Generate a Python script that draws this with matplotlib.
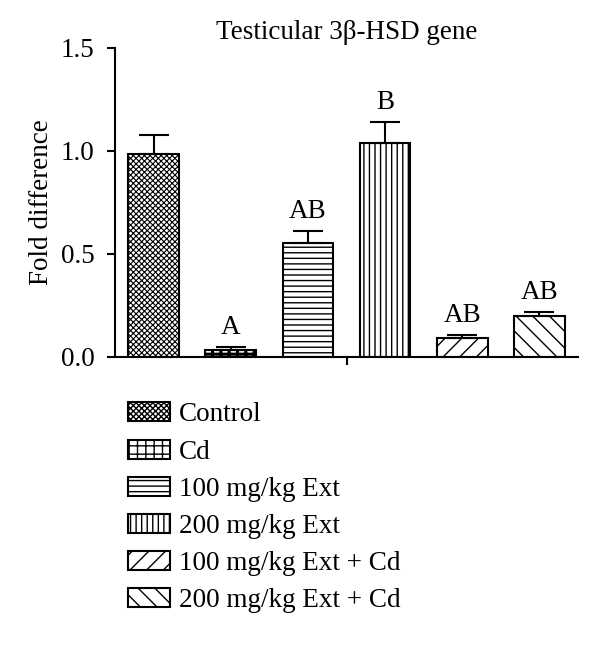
import matplotlib
matplotlib.use("Agg")
import matplotlib.pyplot as plt
from matplotlib.patches import Patch
import numpy as np

groups = ["Control", "Cd", "100 mg/kg Ext", "200 mg/kg Ext",
          "100 mg/kg Ext + Cd", "200 mg/kg Ext + Cd"]
means = [0.984, 0.032, 0.554, 1.036, 0.092, 0.195]
sems = [0.092, 0.015, 0.058, 0.106, 0.011, 0.022]
letters = ["", "A", "AB", "B", "AB", "AB"]
hatches = ["xxxxxx", "++", "---", "|||", "//", "\\\\"]
hatch_lw = [0.8, 2.2, 1.0, 1.0, 1.0, 1.0]

plt.rcParams["font.family"] = ["Liberation Serif", "DejaVu Serif"]
FS = 19.5

fig = plt.figure(figsize=(6.0, 6.46), dpi=100)
ax = fig.add_axes([0.192, 0.448, 0.771, 0.478])

x = np.arange(len(groups))
for i in range(len(groups)):
    with plt.rc_context({"hatch.linewidth": hatch_lw[i]}):
        b = ax.bar(x[i], means[i], width=0.66, color="white", edgecolor="black",
                   linewidth=1.5, hatch=hatches[i], zorder=2)
        if hasattr(b[0], "set_hatch_linewidth"):
            b[0].set_hatch_linewidth(hatch_lw[i])

ax.errorbar(x, means, yerr=[np.zeros(len(sems)), sems], fmt="none",
            ecolor="black", elinewidth=1.5, capsize=10.5, capthick=1.5, zorder=3)

for i, lab in enumerate(letters):
    if lab:
        ax.annotate(lab, xy=(x[i], means[i] + sems[i]), xytext=(0, 5),
                    textcoords="offset points", ha="center", va="bottom", fontsize=FS)

ax.set_xlim(-0.5, 5.5)
ax.set_ylim(0, 1.5)
ax.set_yticks([0.0, 0.5, 1.0, 1.5])
ax.set_yticklabels(["0.0", "0.5", "1.0", "1.5"])
ax.set_xticks([2.5])
ax.set_xticklabels([""])
ax.tick_params(axis="both", direction="out", length=6, width=1.5, labelsize=FS, pad=9)
for side in ["top", "right"]:
    ax.spines[side].set_visible(False)
for side in ["left", "bottom"]:
    ax.spines[side].set_linewidth(1.5)

ax.set_ylabel("Fold difference", fontsize=FS, labelpad=5)
ax.set_title("Testicular 3β-HSD gene", fontsize=FS, pad=6)

handles = []
for i in range(len(groups)):
    with plt.rc_context({"hatch.linewidth": hatch_lw[i]}):
        p = Patch(facecolor="white", edgecolor="black", linewidth=1.5, hatch=hatches[i])
        if hasattr(p, "set_hatch_linewidth"):
            p.set_hatch_linewidth(hatch_lw[i])
    handles.append(p)

leg = fig.legend(handles, groups, loc="upper left", bbox_to_anchor=(0.213, 0.377),
                 frameon=False, fontsize=FS, handlelength=1.55, handleheight=0.7,
                 handletextpad=0.35, labelspacing=0.45, borderpad=0, borderaxespad=0)

fig.savefig("out.png", dpi=100)
